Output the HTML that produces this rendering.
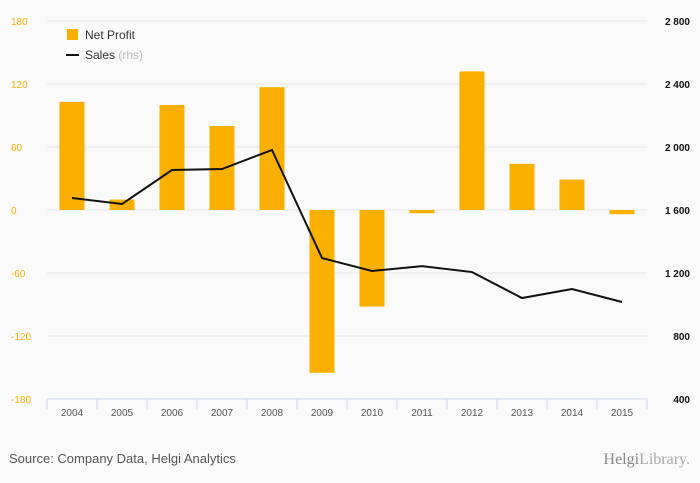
<!DOCTYPE html>
<html><head><meta charset="utf-8"><style>
body{margin:0;background:#fafafa;font-family:"Liberation Sans",sans-serif;}
svg{display:block}
</style></head><body>
<svg id="c" width="700" height="483">
<rect x="0" y="0" width="700" height="483" fill="#fafafa"/>
<g id="grid"></g><g id="bars"></g><g id="line"></g><g id="axes"></g>
<g>
<rect x="67" y="29" width="11" height="11" fill="#f9b000"/>
<text x="85" y="39" font-size="12" fill="#333">Net Profit</text>
<line x1="66" y1="55" x2="79" y2="55" stroke="#111" stroke-width="2"/>
<text x="85" y="59" font-size="12" fill="#333">Sales <tspan fill="#bbb">(rhs)</tspan></text>
</g>
<text x="9" y="463" font-size="13" fill="#555">Source: Company Data, Helgi Analytics</text>
<text x="690" y="464" font-size="16" fill="#aaa" text-anchor="end" font-family="Liberation Serif,serif"><tspan fill="#888">Helgi</tspan>Library.</text>
</svg>
<script>
const categories=["2004","2005","2006","2007","2008","2009","2010","2011","2012","2013","2014","2015"];
const netProfit=[103,10,100,80,117,-155,-92,-3,132,44,29,-4];
const sales=[1676,1638,1854,1860,1981,1295,1213,1244,1206,1041,1098,1016];
const leftTicks=[180,120,60,0,-60,-120,-180];
const rightTicks=[2800,2400,2000,1600,1200,800,400];
const NS="http://www.w3.org/2000/svg";
const x0=47,step=50,yTop=21,yBot=399;
const xc=i=>x0+step*i+step/2;
const yL=v=>yTop+(180-v)/360*(yBot-yTop);
const yR=v=>yTop+(2800-v)/2400*(yBot-yTop);
function mk(t,a,p){const e=document.createElementNS(NS,t);for(const k in a)e.setAttribute(k,a[k]);document.getElementById(p).appendChild(e);return e;}
leftTicks.forEach(v=>{
 if(v!==-180){const g=mk("line",{x1:x0,x2:647,y1:yL(v),y2:yL(v),stroke:"#e6e6e6"},"grid");
 
 }
 const t=mk("text",{x:11,y:yL(v)+4,"font-size":10,fill:"#f9b000"},"axes");t.textContent=v;
 
 
});
rightTicks.forEach(v=>{
 const t=mk("text",{x:690,y:yR(v)+4,"font-size":10,fill:"#111","text-anchor":"end","font-weight":"bold"},"axes");
 t.textContent=v>=1000?String(v).replace(/(\d)(\d{3})$/,"$1 $2"):v;
 
 
});
const ax=mk("line",{x1:x0,x2:647,y1:yBot,y2:yBot,stroke:"#ccd6eb"},"axes");


for(let i=0;i<=categories.length;i++){const tk=mk("line",{x1:x0+step*i,x2:x0+step*i,y1:yBot,y2:yBot+10,stroke:"#ccd6eb"},"axes");
 
 }
categories.forEach((c,i)=>{
 const t=mk("text",{x:xc(i),y:yBot+17,"font-size":10,fill:"#555","text-anchor":"middle"},"axes");t.textContent=c;
 
 
 const v=netProfit[i],y1=yL(Math.max(v,0)),y2=yL(Math.min(v,0));
 const b=mk("rect",{x:xc(i)-12.5,y:y1,width:25,height:Math.max(y2-y1,1),fill:"#f9b000"},"bars");
 
 
});
const pl=mk("polyline",{points:sales.map((v,i)=>xc(i)+","+yR(v)).join(" "),fill:"none",stroke:"#111","stroke-width":2},"line");


</script>
</body></html>
